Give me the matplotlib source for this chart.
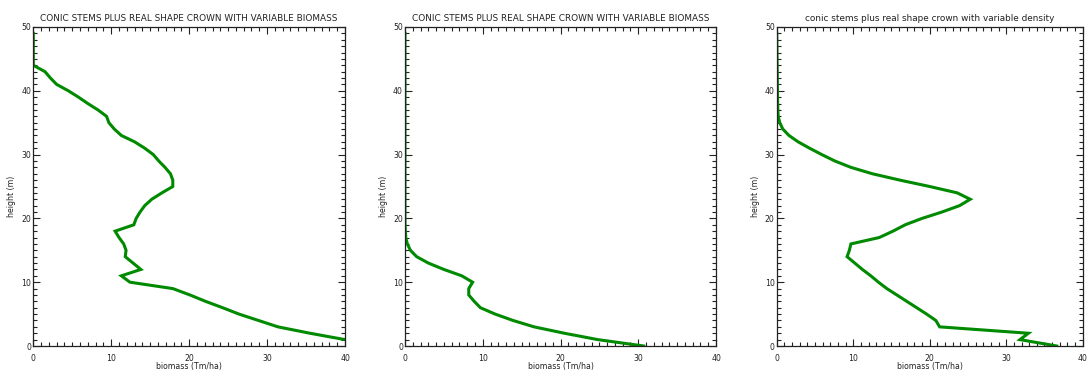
import matplotlib
matplotlib.use("Agg")
import matplotlib.pyplot as plt
from matplotlib.ticker import MultipleLocator

# height levels (m), top of canopy down to the ground
height = list(range(49, -1, -1))

# biomass profiles (Tm/ha) at each height level
biomass_stems = [
    0.0, 0.0, 0.0, 0.0, 0.0, 0.0,              # 49-44
    1.5, 2.2, 3.0, 4.5, 5.8, 7.0, 8.3, 9.4,    # 43-36
    9.7, 10.4, 11.3, 13.0, 14.3, 15.4,         # 35-30
    16.1, 16.9, 17.6, 17.9, 17.9, 16.5,        # 29-24
    15.2, 14.3, 13.7, 13.2, 12.9, 10.5,        # 23-18
    11.0, 11.6, 11.9, 11.8, 12.8, 13.8,        # 17-12
    11.3, 12.4, 17.9, 20.1, 22.1, 24.3,        # 11-6
    26.4, 28.9, 31.4, 35.5, 40.0,              # 5-1
]
height_stems = height[:-1]

biomass_crown = [0.0] * 31 + [             # 49-19
    0.05, 0.1, 0.3, 0.7, 1.5, 3.0, 5.0,    # 18-12
    7.3, 8.7, 8.2, 8.2, 8.9, 9.7,          # 11-6
    11.6, 13.9, 16.6, 20.5, 24.8, 30.7,    # 5-0
]

biomass_density = [
    0.0, 0.02, 0.03, 0.04, 0.05, 0.06, 0.07,   # 49-43
    0.08, 0.09, 0.1, 0.11, 0.12, 0.15,         # 42-37
    0.2, 0.4, 0.8, 1.6, 2.8, 4.3,              # 36-31
    5.9, 7.6, 9.7, 12.5, 16.1, 20.0,           # 30-25
    23.6, 25.3, 23.9, 21.6, 19.0, 16.8,        # 24-19
    15.2, 13.4, 9.7, 9.5, 9.2, 10.2,           # 18-13
    11.2, 12.3, 13.3, 14.4, 15.7, 17.0,        # 12-7
    18.3, 19.6, 20.8, 21.3, 32.9, 31.8, 36.6,  # 6-0
]

titles = [
    "CONIC STEMS PLUS REAL SHAPE CROWN WITH VARIABLE BIOMASS",
    "CONIC STEMS PLUS REAL SHAPE CROWN WITH VARIABLE BIOMASS",
    "conic stems plus real shape crown with variable density",
]
profiles = [
    (biomass_stems, height_stems),
    (biomass_crown, height),
    (biomass_density, height),
]

LINE = "#008a00"
INK = "#222222"

plt.rcParams["font.family"] = ["DejaVu Sans"]
plt.rcParams["font.size"] = 5.6

fig = plt.figure(figsize=(10.92, 3.71), dpi=100)
W, H = 1092.0, 371.0
boxes = [(33.3, 345.0), (405.0, 716.0), (776.7, 1082.7)]
top, bottom = 27.0, 346.0

for (x0, x1), title, (xs, ys) in zip(boxes, titles, profiles):
    ax = fig.add_axes([x0 / W, 1 - bottom / H, (x1 - x0) / W, (bottom - top) / H])
    ax.plot(xs, ys, color=LINE, lw=2.2, solid_joinstyle="miter")
    ax.set_xlim(0, 40)
    ax.set_ylim(0, 50)
    ax.xaxis.set_major_locator(MultipleLocator(10))
    ax.xaxis.set_minor_locator(MultipleLocator(1))
    ax.yaxis.set_major_locator(MultipleLocator(10))
    ax.yaxis.set_minor_locator(MultipleLocator(1))
    ax.tick_params(which="both", direction="in", top=True, right=True,
                   color=INK, labelcolor=INK, width=0.8)
    ax.tick_params(which="major", length=5.0)
    ax.tick_params(which="minor", length=2.6)
    ax.tick_params(axis="x", pad=5.5)
    ax.tick_params(axis="y", pad=1.5)
    for s in ax.spines.values():
        s.set_color(INK)
        s.set_linewidth(0.9)
    ax.set_title(title, fontsize=6.4, color=INK, pad=4.5)
    ax.set_xlabel("biomass (Tm/ha)", color=INK, labelpad=-0.5)
    ax.set_ylabel("height (m)", color=INK)
    ax.yaxis.set_label_coords(-17.0 / (x1 - x0), 0.47)

fig.savefig("out.png", dpi=100)
